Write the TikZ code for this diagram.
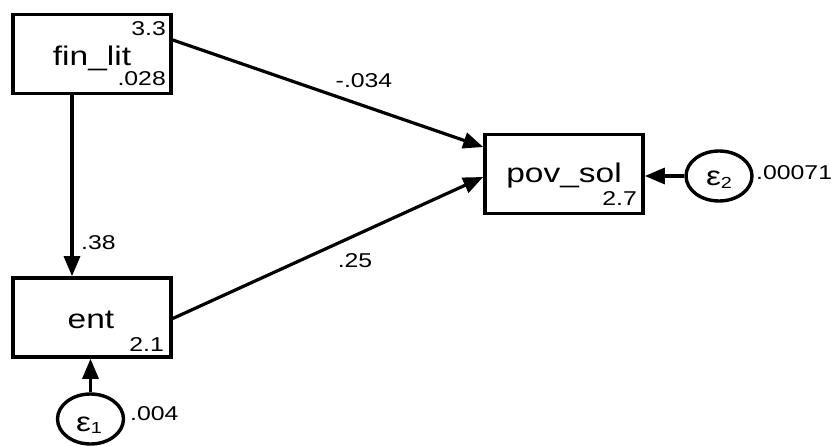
\documentclass[tikz,border=0pt]{standalone}
\usepackage{fontspec}
\setmainfont{Liberation Sans}[FakeStretch=1.24]
\usetikzlibrary{arrows.meta,shapes.geometric}

\tikzset{
  obsvar/.style={draw, line width=3.6pt, minimum width=158pt, minimum height=79pt, inner sep=0pt},
  errvar/.style={draw, ellipse, line width=3.4pt, minimum width=66pt, minimum height=50pt, inner sep=0pt},
  pathline/.style={line width=3.2pt, -{Triangle[length=20pt,width=16pt]}},
  bigtxt/.style={font=\fontsize{27}{30}\selectfont, inner sep=0pt, anchor=base},
  numtxt/.style={font=\fontsize{20}{22}\selectfont, inner sep=0pt},
  subtxt/.style={font=\fontsize{16}{16}\selectfont},
}

\begin{document}
\begin{tikzpicture}[x=1pt,y=-1pt]
  \useasboundingbox (0,0) rectangle (837,446);

  % observed variables
  \node[obsvar] (finlit) at (92,54) {};
  \node[obsvar] (ent) at (92,317.5) {};
  \node[obsvar] (povsol) at (564,174) {};

  \node[bigtxt] (finlitlab) at (92,66) {fin\_lit};
  \node[bigtxt] (entlab) at (91,328) {ent};
  \node[bigtxt] (povsollab) at (564,183) {pov\_sol};

  % intercepts and variances
  \node[numtxt, anchor=base east] (finlitint) at (166,36) {3.3};
  \node[numtxt, anchor=base east] (finlitvar) at (166,86) {.028};
  \node[numtxt, anchor=base east] (entint) at (164,351) {2.1};
  \node[numtxt, anchor=base east] (povsolint) at (637,206) {2.7};

  % error terms
  \node[errvar] (e1) at (90.5,419) {};
  \node[errvar] (e2) at (719,176) {};
  \node[bigtxt] (e1lab) at (89,431) {ε\raisebox{-2pt}{\fontsize{16}{16}\selectfont 1}};
  \node[bigtxt] (e2lab) at (719,186) {ε\raisebox{-2pt}{\fontsize{16}{16}\selectfont 2}};
  \node[numtxt, anchor=base west] (e1var) at (130,420) {.004};
  \node[numtxt, anchor=base west] (e2var) at (756,180) {.00071};

  % structural paths
  \draw[pathline] (finlit.south -| 72,0) -- (ent.north -| 72,0);
  \draw[pathline] ([yshift=14pt]finlit.east) -- ([yshift=27pt]povsol.west);
  \draw[pathline] ([yshift=-1pt]ent.east) -- ([yshift=-3pt]povsol.west);
  \draw[pathline] (e2.west) -- (e2.west -| povsol.east);
  \draw[pathline] (e1.north) -- (e1.north |- ent.south);

  % path coefficients
  \node[numtxt, anchor=base west] (c38) at (81,249) {.38};
  \node[numtxt, anchor=base] (c034) at (364,88) {-.034};
  \node[numtxt, anchor=base] (c25) at (355,267) {.25};
\end{tikzpicture}
\end{document}
